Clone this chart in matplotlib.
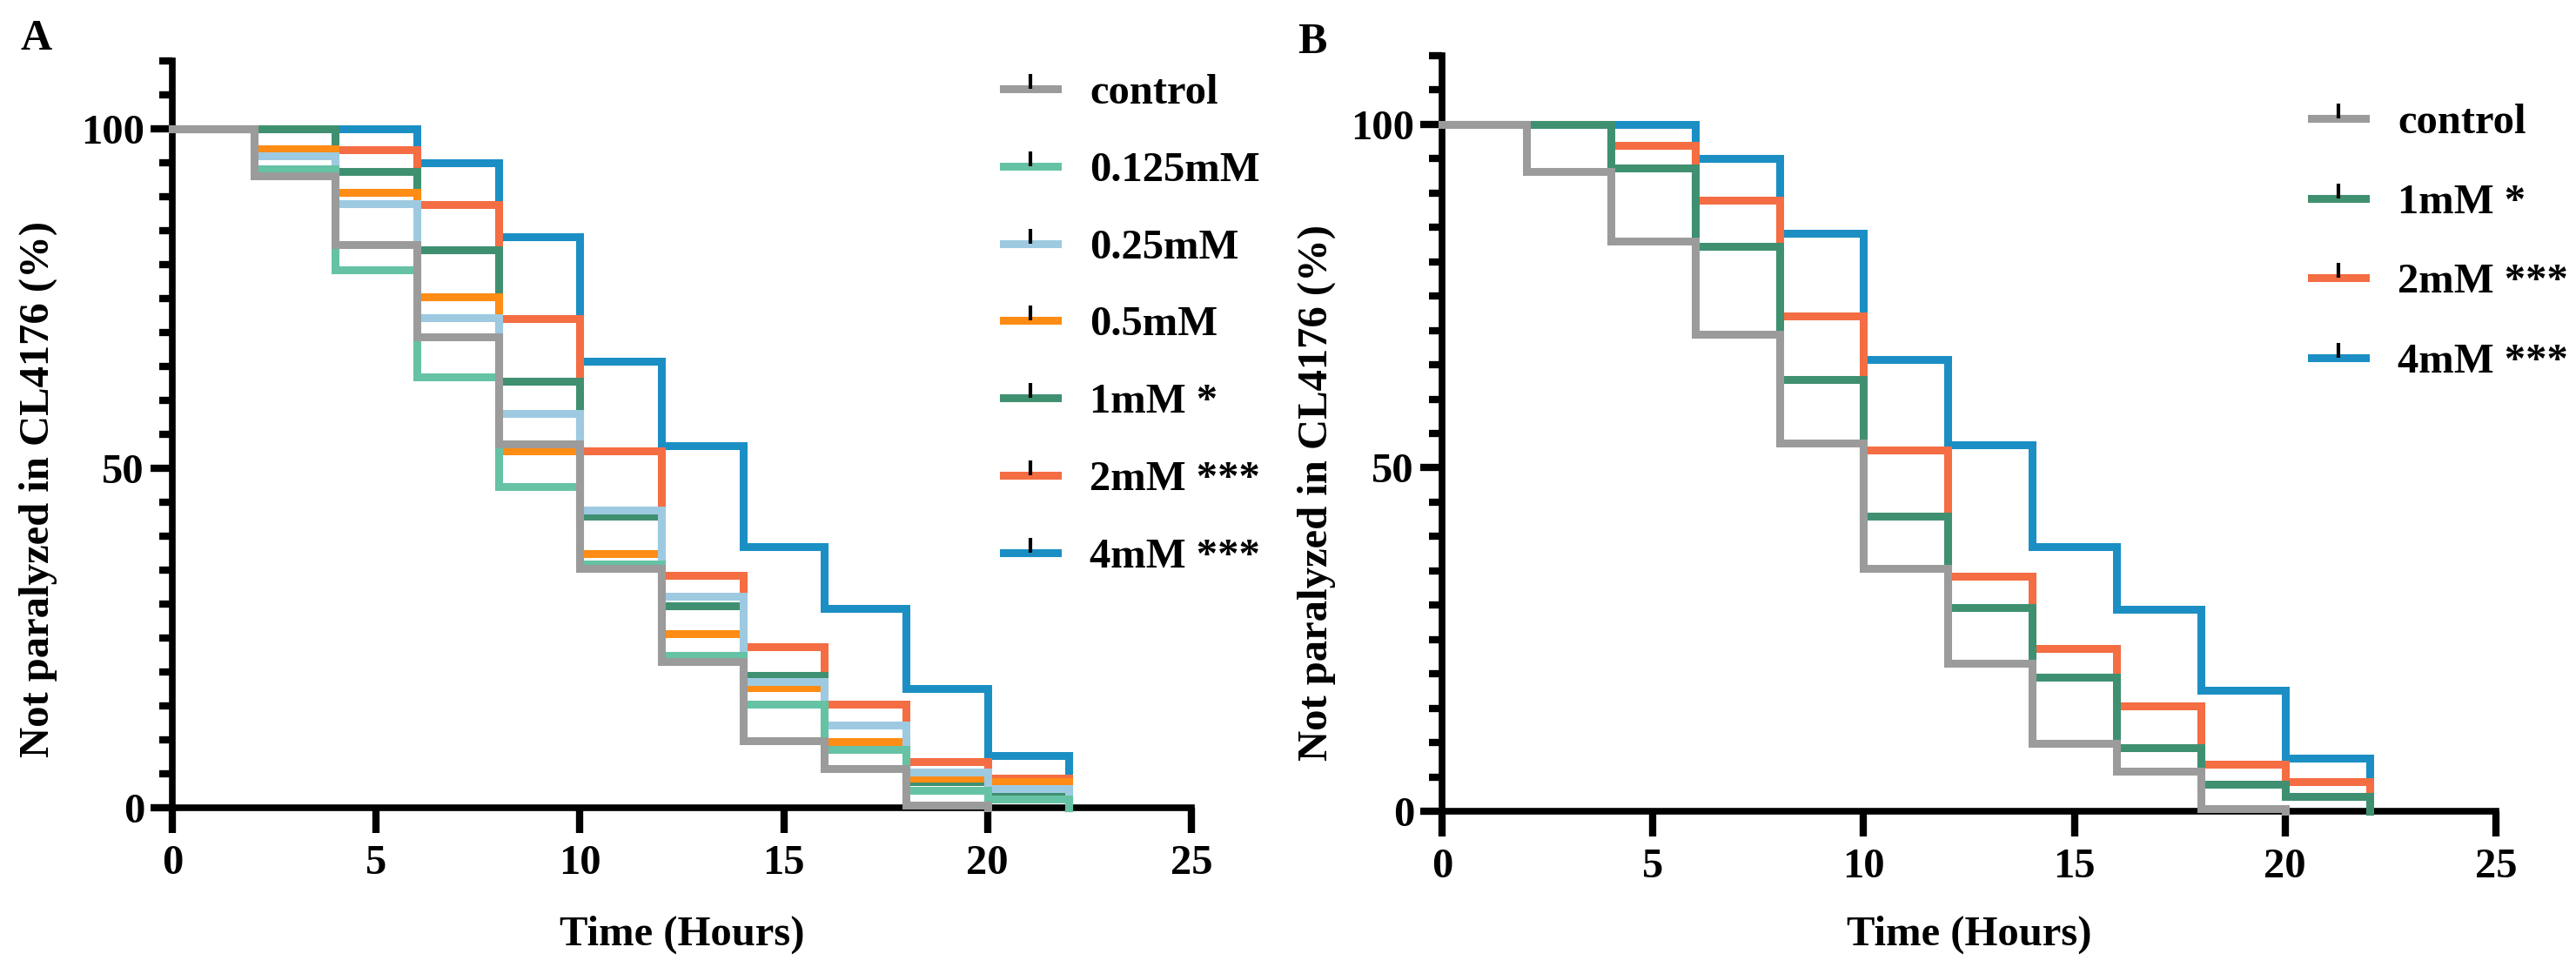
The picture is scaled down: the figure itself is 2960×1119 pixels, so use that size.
import numpy as np
import matplotlib
matplotlib.use("Agg")
import matplotlib.pyplot as plt
from matplotlib.lines import Line2D
from matplotlib.ticker import MultipleLocator

plt.rcParams['font.family'] = 'Liberation Serif'
plt.rcParams['font.weight'] = 'bold'

# time points (hours), each value holds until the next time point
hours = [0, 2, 4, 6, 8, 10, 12, 14, 16, 18, 20, 22]

# % not paralyzed
control = [100, 93.1, 83.0, 69.4, 53.6, 35.3, 21.6, 9.9, 5.8, 0.4, 0]
mm_0125 = [100, 94.1, 79.2, 63.5, 47.3, 35.9, 22.4, 15.3, 8.6, 2.6, 1.3, 0]
mm_025 = [100, 96.0, 89.0, 72.2, 58.1, 43.8, 31.2, 18.6, 12.2, 5.2, 2.8, 0]
mm_05 = [100, 97.0, 90.7, 75.3, 52.6, 37.4, 25.6, 17.7, 9.7, 4.4, 3.9, 0]
mm_1 = [100, 100, 93.7, 82.2, 62.8, 43.0, 29.7, 19.5, 9.2, 3.9, 2.2, 0]
mm_2 = [100, 100, 96.9, 88.9, 72.1, 52.6, 34.2, 23.7, 15.3, 6.8, 4.3, 0]
mm_4 = [100, 100, 100, 95.0, 84.1, 65.8, 53.3, 38.5, 29.4, 17.6, 7.7, 0]

labels_a = ['control', '0.125mM', '0.25mM', '0.5mM', '1mM *', '2mM ***', '4mM ***']
series_a = [control, mm_0125, mm_025, mm_05, mm_1, mm_2, mm_4]
colors_a = ['#9B9B9B', '#66C2A5', '#9ECAE1', '#FF8C14', '#3F9071', '#F46D43', '#1B8FC4']

labels_b = ['control', '1mM *', '2mM ***', '4mM ***']
series_b = [control, mm_1, mm_2, mm_4]
colors_b = ['#9B9B9B', '#3F9071', '#F46D43', '#1B8FC4']

W, H = 2960, 1119
FS = 35
LW = 6.5
FAM = 'Liberation Serif'

fig = plt.figure(figsize=(W / 100, H / 100), dpi=100)

# axes placed from pixel positions in the reference
axA = fig.add_axes([198 / W, 1 - 928 / H, (1369 - 198) / W, (928 - 70) / H])
axB = fig.add_axes([1657 / W, 1 - 932 / H, (2868 - 1657) / W, (932 - 64) / H])


def draw_panel(ax, series, colors, labels, leg_xy, spacing):
    n = len(series)
    # first series ends up on top
    for i in range(n - 1, -1, -1):
        vals = series[i]
        ax.step(hours[:len(vals)], vals, where='post', color=colors[i], lw=LW,
                solid_joinstyle='miter', clip_on=False, zorder=3 + (n - i))

    ax.set_xlim(0, 25)
    ax.set_ylim(0, 110)
    ax.set_xticks([0, 5, 10, 15, 20, 25])
    ax.set_yticks([0, 50, 100])
    ax.yaxis.set_minor_locator(MultipleLocator(5))
    for s in ['top', 'right']:
        ax.spines[s].set_visible(False)
    for s in ['left', 'bottom']:
        ax.spines[s].set_linewidth(5.5)
    ax.tick_params(axis='x', which='major', length=21, width=6, pad=9, labelsize=FS)
    ax.tick_params(axis='y', which='major', length=18, width=6, pad=5, labelsize=FS)
    ax.tick_params(axis='y', which='minor', length=11, width=6)
    for lab in ax.get_xticklabels() + ax.get_yticklabels():
        lab.set_family(FAM)
        lab.set_fontweight('bold')

    ax.set_xlabel('Time (Hours)', fontsize=FS, fontweight='bold', family=FAM, va='top')
    ax.set_ylabel('Not paralyzed in CL4176 (%)', fontsize=FS, fontweight='bold', family=FAM)

    handles = [Line2D([0], [0], color=c, lw=LW, marker=2, markersize=12,
                      markeredgecolor='black', markeredgewidth=3)
               for c in colors]
    ax.legend(handles, labels, loc='upper left', bbox_to_anchor=leg_xy,
              bbox_transform=fig.transFigure, frameon=False, numpoints=1,
              prop={'family': FAM, 'weight': 'bold', 'size': FS},
              handlelength=1.28, handletextpad=0.76,
              labelspacing=spacing, borderpad=0, borderaxespad=0)


draw_panel(axA, series_a, colors_a, labels_a, (1153 / W, 1 - 85 / H), 0.92)
draw_panel(axB, series_b, colors_b, labels_b, (2656 / W, 1 - 119 / H), 0.98)

axA.xaxis.set_label_coords(0.5, -0.1445)
axB.xaxis.set_label_coords(0.5, -0.138)
axA.yaxis.set_label_coords((66 - 198) / 1171, 0.4266)
axB.yaxis.set_label_coords((1535 - 1657) / 1211, 0.4217)

fig.text(23 / W, 1 - 57 / H, 'A', fontsize=36, fontweight='bold', family=FAM, va='baseline')
fig.text(1491 / W, 1 - 61 / H, 'B', fontsize=36, fontweight='bold', family=FAM, va='baseline')

fig.savefig('out.png', dpi=100)
